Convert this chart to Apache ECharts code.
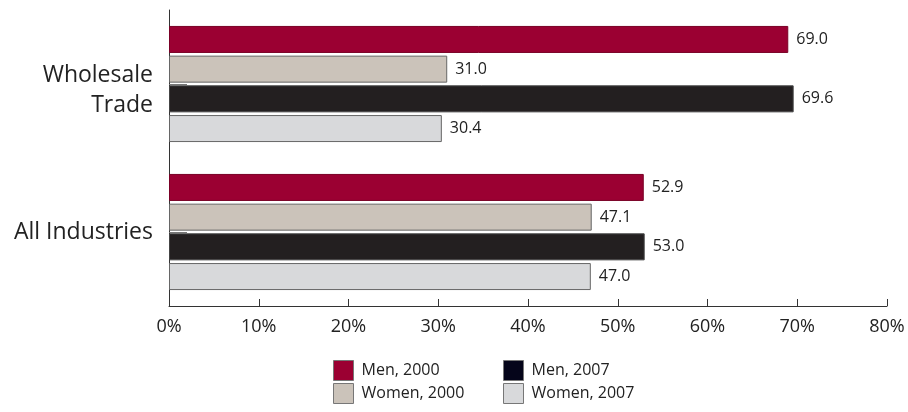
<!DOCTYPE html>
<html><head><meta charset="utf-8">
<script src="https://cdn.jsdelivr.net/npm/echarts@6/dist/echarts.min.js"></script>
<style>html,body{margin:0;padding:0;background:#fff}#c{width:908px;height:412px}</style>
</head><body><div id="c"></div>
<script>
const categories = ["Wholesale\nTrade", "All Industries"];
const seriesNames = ["Men, 2000", "Women, 2000", "Men, 2007", "Women, 2007"];
const men2000 = [69.0, 52.9];
const women2000 = [31.0, 47.1];
const men2007 = [69.6, 53.0];
const women2007 = [30.4, 47.0];
const xTicks = [0, 10, 20, 30, 40, 50, 60, 70, 80];

const colors = ["#9b0032", "#cbc3ba", "#231f20", "#d8d9db"];
const borders = ["#7a0026", "#666", "#444", "#666"];
const values = [men2000, women2000, men2007, women2007];
const FONT = "Open Sans";

const legendText = {fontSize: 16, color: '#222', fontFamily: FONT, padding: [0,0,0,3]};
const legendItem = (i) => ({name: seriesNames[i], itemStyle: {color: i === 2 ? '#05051a' : colors[i], borderColor: '#777', borderWidth: 1}});

const chart = echarts.init(document.getElementById('c'));
chart.setOption({
  animation: false,
  textStyle: {fontFamily: FONT},
  grid: {left: 169, right: 21, top: 10, bottom: 106, containLabel: false},
  xAxis: {
    type: 'value', min: 0, max: 80, interval: 10,
    axisLine: {show: true, lineStyle: {color: '#333', width: 1}},
    axisTick: {show: true, inside: true, length: 7, lineStyle: {color: '#333'}},
    splitLine: {show: false},
    axisLabel: {formatter: v => v + '%', fontSize: 18, color: '#222', margin: 12, fontFamily: FONT}
  },
  yAxis: {
    type: 'category', data: categories, inverse: true,
    axisLine: {show: true, lineStyle: {color: '#333', width: 1}},
    axisTick: {show: true, inside: true, length: 18, alignWithLabel: true, lineStyle: {color: '#777'}},
    axisLabel: {
      margin: 16, align: 'right',
      formatter: v => {
        const parts = v.split('\n');
        if (parts.length === 1) return '{s|' + v + '}';
        return '{e| }\n' + parts.map(s => '{s|' + s + '}').join('\n');
      },
      rich: {
        e: {fontSize: 1, lineHeight: 12, align: 'right'},
        s: {fontSize: 23, color: '#222', lineHeight: 30, fontFamily: FONT, align: 'right'}
      }
    }
  },
  legend: [
    {left: 333, top: 360, orient: 'vertical', itemWidth: 20, itemHeight: 20, itemGap: 2,
     data: [legendItem(0), legendItem(1)], textStyle: legendText, icon: 'rect', padding: 0},
    {left: 503, top: 360, orient: 'vertical', itemWidth: 20, itemHeight: 20, itemGap: 2,
     data: [legendItem(2), legendItem(3)], textStyle: legendText, icon: 'rect', padding: 0}
  ],
  series: seriesNames.map((n, i) => ({
    name: n, type: 'bar', data: values[i],
    barWidth: 27, barGap: '10%',
    itemStyle: {color: colors[i], borderColor: borders[i], borderWidth: 1},
    label: {show: true, position: 'right', distance: 8, fontSize: 16, color: '#222', fontFamily: FONT,
      formatter: p => p.value.toFixed(1)}
  }))
});
</script></body></html>
